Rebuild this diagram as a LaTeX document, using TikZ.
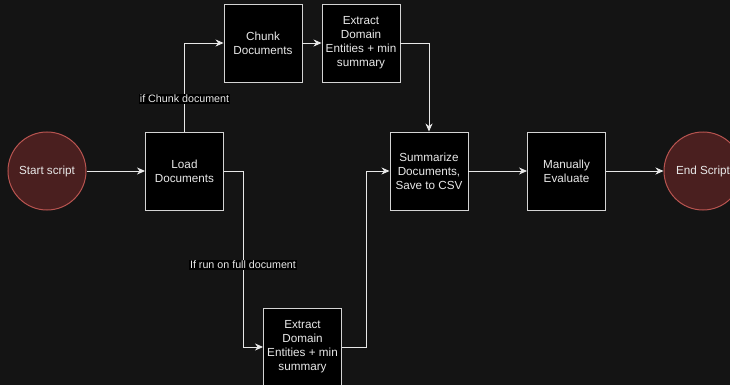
\documentclass[tikz,border=0pt]{standalone}
\usepackage{fontspec}
\setmainfont{Liberation Sans}
\usetikzlibrary{arrows.meta}
\definecolor{canvas}{HTML}{141414}
\definecolor{boxline}{HTML}{D4D4D4}
\definecolor{ink}{HTML}{E8E8E8}
\definecolor{termfill}{HTML}{4A1F1F}
\definecolor{termline}{HTML}{B85450}
\tikzset{
  stepbox/.style={draw=boxline, fill=black, line width=0.9pt, minimum width=78pt,
    minimum height=78pt, inner sep=1pt, align=center, text=ink,
    font=\fontsize{11.7}{14}\selectfont},
  terminal/.style={circle, draw=termline, fill=termfill, line width=1pt,
    minimum size=78pt, inner sep=0pt, text=ink, font=\fontsize{11.7}{14}\selectfont},
  flow/.style={draw=ink, line width=0.9pt,
    -{Stealth[length=8pt,width=7pt,inset=2.5pt]}},
  edgelabel/.style={fill=black, text=ink, inner sep=1pt,
    font=\fontsize{10.7}{12}\selectfont}
}
\begin{document}
\begin{tikzpicture}[x=1pt,y=-1pt]
  \fill[canvas] (0,0) rectangle (730,385);
  \useasboundingbox (0,0) rectangle (730,385);

  % terminals
  \node[terminal] (start) at (47,171) {Start script};
  \node[terminal] (finish) at (703,171) {End Script};

  % processing steps
  \node[stepbox] (load) at (184.5,171) {Load\\Documents};
  \node[stepbox] (chunk) at (263,43) {Chunk\\Documents};
  \node[stepbox] (extop) at (361,43) {Extract\\Domain\\Entities + min\\summary};
  \node[stepbox] (exbot) at (302.5,347) {Extract\\Domain\\Entities + min\\summary};
  \node[stepbox] (summ) at (429,171) {Summarize\\Documents,\\Save to CSV};
  \node[stepbox] (manual) at (566.5,171) {Manually\\Evaluate};

  % bend points of the routed connectors
  \coordinate (fullbend) at (243,171);
  \coordinate (fulllow) at (243,347);
  \coordinate (backlow) at (366,347);
  \coordinate (backup) at (366,171);

  % connectors
  \draw[flow] (start) -- (load);
  \draw[flow] (load.north) |- (chunk.west);
  \node[edgelabel] (chunklabel) at (184.5,99) {if Chunk document};
  \draw[flow] (chunk) -- (extop);
  \draw[flow] (extop.east) -| (summ.north);
  \draw[flow] (load.east) -- (fullbend) -- (fulllow) -- (exbot.west);
  \node[edgelabel] (fulllabel) at (243,265) {If run on full document};
  \draw[flow] (exbot.east) -- (backlow) -- (backup) -- (summ.west);
  \draw[flow] (summ) -- (manual);
  \draw[flow] (manual) -- (finish);
\end{tikzpicture}
\end{document}
